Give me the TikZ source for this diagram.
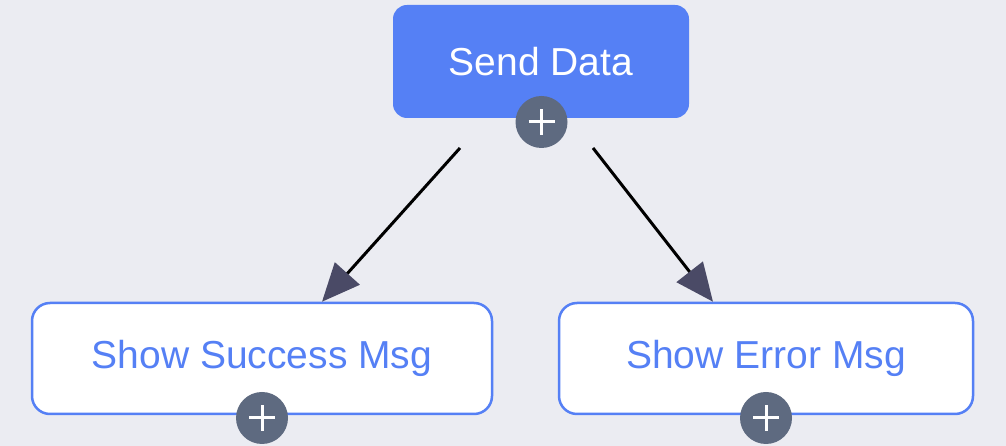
\documentclass[tikz,border=0pt]{standalone}
\usepackage{fontspec}
\setmainfont{Liberation Sans}
\usetikzlibrary{arrows.meta,calc}
\definecolor{bgc}{RGB}{235,236,242}
\definecolor{mainblue}{RGB}{85,128,245}
\definecolor{plusgray}{RGB}{94,106,128}
\definecolor{arrowc}{RGB}{74,74,102}
\tikzset{
  mainbox/.style={draw=none, fill=mainblue, rounded corners=14pt, text=white,
    minimum width=296pt, minimum height=113pt, inner sep=0pt,
    font=\fontsize{39}{47}\selectfont},
  childbox/.style={draw=mainblue, line width=2.5pt, fill=white, rounded corners=18pt, text=mainblue,
    inner sep=0pt, minimum height=111pt, font=\fontsize{39}{47}\selectfont},
  plusbtn/.style={circle, fill=plusgray, minimum size=52pt, inner sep=0pt,
    path picture={\draw[white, line width=3pt]
      ($(path picture bounding box.center)+(-13pt,0)$) -- ($(path picture bounding box.center)+(13pt,0)$)
      ($(path picture bounding box.center)+(0,-13pt)$) -- ($(path picture bounding box.center)+(0,13pt)$);}},
  link/.style={line width=3pt, black,
    -{Triangle[length=38pt,width=33pt,fill=arrowc,color=arrowc]}}
}
\begin{document}
\begin{tikzpicture}[x=1pt,y=1pt]
\fill[bgc] (0,0) rectangle (1006,446);
\useasboundingbox (0,0) rectangle (1006,446);
\node[mainbox] (send) at (541,384.5) {Send Data};
\node[childbox, minimum width=460pt] (succ) at (262,87.5) {Show Success Msg};
\node[childbox, minimum width=414pt] (err) at (766,87.5) {Show Error Msg};
\node[plusbtn] (p1) at (541.5,324) {};
\node[plusbtn] (p2) at (262,28) {};
\node[plusbtn] (p3) at (766,28) {};
\coordinate (s1) at (460,298);
\coordinate (s2) at (593,298);
\coordinate (t1) at ($(succ.north)+(60,0)$);
\coordinate (t2) at ($(err.north)+(-53,0)$);
\draw[link] (s1) -- (t1);
\draw[link] (s2) -- (t2);
\end{tikzpicture}
\end{document}
